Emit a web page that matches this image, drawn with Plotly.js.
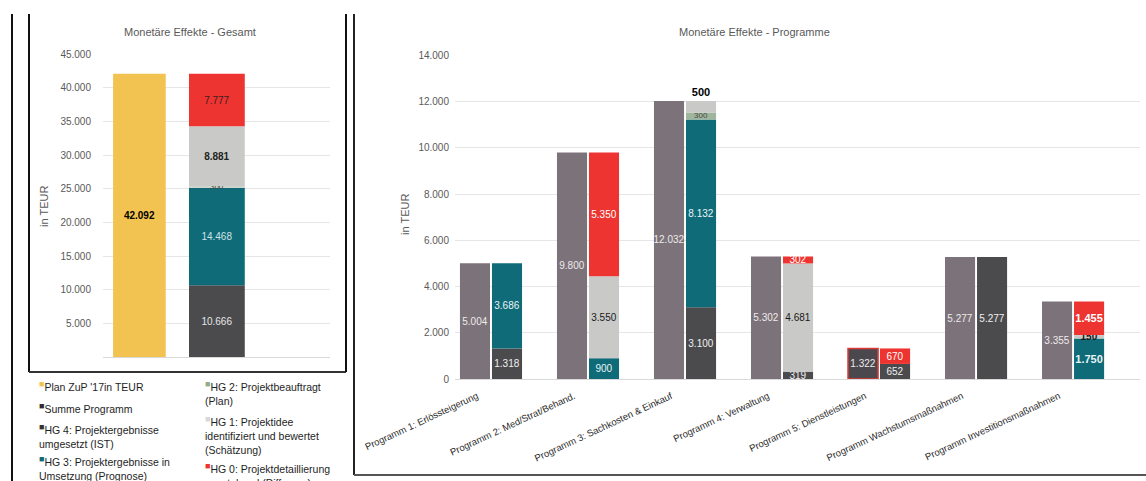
<!DOCTYPE html>
<html>
<head>
<meta charset="utf-8">
<script src="https://cdn.plot.ly/plotly-3.0.1.min.js"></script>
<style>html,body{margin:0;padding:0;background:#fff;}#chart{width:1146px;height:481px;}</style>
</head>
<body>
<div id="chart"></div>
<script>
// ---------- DATA ----------
const programCategories = [
  'Programm 1: Erlössteigerung',
  'Programm 2: Med/Strat/Behand.',
  'Programm 3: Sachkosten & Einkauf',
  'Programm 4: Verwaltung',
  'Programm 5: Dienstleistungen',
  'Programm Wachstumsmaßnahmen',
  'Programm Investitionsmaßnahmen'
];
const planProgramm = [5004, 9800, 12032, 5302, 1322, 5277, 3355];
const hg4Programm  = [1318, 0, 3100, 319, 652, 5277, 0];
const hg3Programm  = [3686, 900, 8132, 0, 0, 0, 1750];
const hg2Programm  = [0, 0, 300, 0, 0, 0, 0];
const hg1Programm  = [0, 3550, 500, 4681, 0, 0, 150];
const hg0Programm  = [0, 5350, 0, 302, 670, 0, 1455];

const gesamtPlanCat  = ['Plan'];
const gesamtStackCat = ['Summe'];
const planGesamt = [42092];
const hg4Gesamt  = [10666];
const hg3Gesamt  = [14468];
const hg2Gesamt  = [300];
const hg1Gesamt  = [8881];
const hg0Gesamt  = [7777];

const leftTicks  = [5000, 10000, 15000, 20000, 25000, 30000, 35000, 40000, 45000];
const rightTicks = [0, 2000, 4000, 6000, 8000, 10000, 12000, 14000];

const seriesNames = {
  plan: "Plan ZuP '17in TEUR",
  summe: 'Summe Programm',
  hg4: 'HG 4: Projektergebnisse umgesetzt (IST)',
  hg3: 'HG 3: Projektergebnisse in Umsetzung (Prognose)',
  hg2: 'HG 2: Projektbeauftragt (Plan)',
  hg1: 'HG 1: Projektidee identifiziert und bewertet (Schätzung)',
  hg0: 'HG 0: Projektdetaillierung ausstehend (Differenz)'
};

// ---------- STYLE ----------
const W = 1146, H = 481;
const px = x => x / W;
const py = y => 1 - y / H;
const FONT = 'Liberation Sans, Arial, sans-serif';
const C = {
  plan: '#f2c350', summe: '#7c7279', summeDark: '#4a484c',
  hg4: '#4b4b4e', hg3: '#0f6b78', hg2: '#9fb59c', hg1: '#c9cac7', hg0: '#ee3430'
};

function fmt(v) { return v ? String(v).replace(/\B(?=(\d{3})+(?!\d))/g, '.') : ''; }
function bases(list) {
  const out = []; let acc = list[0].map(() => 0);
  list.forEach(a => { out.push(acc.slice()); acc = acc.map((v, i) => v + a[i]); });
  return out;
}

const traces = [];

// ---------- LEFT CHART ----------
traces.push({
  type: 'bar', x: gesamtPlanCat, y: planGesamt, name: seriesNames.plan,
  xaxis: 'x', yaxis: 'y', width: 0.68,
  marker: { color: C.plan, line: { width: 0 } },
  text: planGesamt.map(v => '<b>' + fmt(v) + '</b>'), textposition: 'inside',
  insidetextanchor: 'middle', textangle: 0, constraintext: 'none',
  textfont: { family: FONT, size: 10, color: '#000' }, showlegend: false, hoverinfo: 'skip'
});
const leftStack = [hg4Gesamt, hg3Gesamt, hg2Gesamt, hg1Gesamt, hg0Gesamt];
const leftBases = bases(leftStack);
const leftStyle = [
  { n: seriesNames.hg4, c: C.hg4, t: '#e6e6e6', b: false },
  { n: seriesNames.hg3, c: C.hg3, t: '#cfe2e6', b: false },
  { n: seriesNames.hg2, c: '#cfd5cc', t: '#444', b: false },
  { n: seriesNames.hg1, c: C.hg1, t: '#222', b: true },
  { n: seriesNames.hg0, c: C.hg0, t: '#3a2020', b: false }
];
leftStack.forEach((arr, k) => {
  const s = leftStyle[k];
  traces.push({
    type: 'bar', x: gesamtStackCat, y: arr, base: leftBases[k], name: s.n,
    xaxis: 'x', yaxis: 'y', width: 0.72,
    marker: { color: s.c, line: { width: 0 } },
    text: arr.map(v => s.b ? '<b>' + fmt(v) + '</b>' : fmt(v)), textposition: 'inside',
    insidetextanchor: 'middle', textangle: 0, constraintext: 'none',
    textfont: { family: FONT, size: k === 2 ? 8 : 10, color: s.t }, showlegend: false, hoverinfo: 'skip'
  });
});

// ---------- RIGHT CHART ----------
traces.push({
  type: 'bar', x: programCategories, y: planProgramm, name: seriesNames.summe,
  xaxis: 'x2', yaxis: 'y2', offset: -0.32, width: 0.31,
  marker: {
    color: programCategories.map((_, i) => i === 4 ? C.summeDark : C.summe),
    line: { color: '#e03a3a', width: programCategories.map((_, i) => i === 4 ? 1.5 : 0) }
  },
  text: planProgramm.map(fmt), textposition: 'inside',
  insidetextanchor: 'middle', textangle: 0, constraintext: 'none',
  textfont: { family: FONT, size: 10, color: '#eeeaec' }, showlegend: false, hoverinfo: 'skip'
});
const rightStack = [hg4Programm, hg3Programm, hg2Programm, hg1Programm, hg0Programm];
const rightBases = bases(rightStack);
const rightStyle = [
  { n: seriesNames.hg4, c: C.hg4, t: '#f0f0f0' },
  { n: seriesNames.hg3, c: C.hg3, t: '#e8f3f5' },
  { n: seriesNames.hg2, c: C.hg2, t: '#4a4a4a' },
  { n: seriesNames.hg1, c: C.hg1, t: '#1a1a1a' },
  { n: seriesNames.hg0, c: C.hg0, t: '#ffffff' }
];
rightStack.forEach((arr, k) => {
  const s = rightStyle[k];
  const pos = arr.map((v, i) => (k === 3 && i === 2) ? 'outside' : 'inside');
  traces.push({
    type: 'bar', x: programCategories, y: arr, base: rightBases[k], name: s.n,
    xaxis: 'x2', yaxis: 'y2', offset: 0.01, width: 0.31,
    marker: { color: s.c, line: { width: 0 } },
    text: arr.map((v, i) => (pos[i] === 'outside' || i === 6) ? '<b>' + fmt(v) + '</b>' : fmt(v)),
    textposition: pos, insidetextanchor: 'middle', textangle: 0, constraintext: 'none',
    cliponaxis: false,
    textfont: { family: FONT, size: arr.map((v, i) => i === 6 && k !== 3 ? 11 : (k === 2 ? 8 : 10)), color: s.t },
    outsidetextfont: { family: FONT, size: 11, color: '#000' },
    showlegend: false, hoverinfo: 'skip'
  });
});

// ---------- LEGEND (text) ----------
function legendText(color, label) {
  return '<sup><span style="color:' + color + ';font-size:9px">■</span></sup>' + label;
}
const legendItems = [
  { x: 37, y: 377, c: C.plan, t: "Plan ZuP '17in TEUR" },
  { x: 37, y: 399, c: '#2d2d2d', t: 'Summe Programm' },
  { x: 37, y: 420, c: '#333', t: 'HG 4: Projektergebnisse<br>umgesetzt (IST)' },
  { x: 37, y: 452, c: C.hg3, t: 'HG 3: Projektergebnisse in<br>Umsetzung (Prognose)' },
  { x: 203, y: 377, c: '#8fae8c', t: 'HG 2: Projektbeauftragt<br>(Plan)' },
  { x: 203, y: 412, c: '#d8d8d8', t: 'HG 1: Projektidee<br>identifiziert und bewertet<br>(Schätzung)' },
  { x: 203, y: 459, c: C.hg0, t: 'HG 0: Projektdetaillierung<br>ausstehend (Differenz)' }
];

const annotations = [
  { text: 'Monetäre Effekte - Gesamt', x: px(190), y: py(32), xref: 'paper', yref: 'paper',
    xanchor: 'center', yanchor: 'middle',
    showarrow: false, font: { family: FONT, size: 11, color: '#595959' } },
  { text: 'Monetäre Effekte - Programme', x: px(754), y: py(32), xref: 'paper', yref: 'paper',
    xanchor: 'center', yanchor: 'middle',
    showarrow: false, font: { family: FONT, size: 11, color: '#595959' } },
  { text: 'in TEUR', x: px(44), y: py(207), xref: 'paper', yref: 'paper', textangle: -90,
    xanchor: 'center', yanchor: 'middle',
    showarrow: false, font: { family: FONT, size: 11, color: '#595959' } },
  { text: 'in TEUR', x: px(405), y: py(215), xref: 'paper', yref: 'paper', textangle: -90,
    xanchor: 'center', yanchor: 'middle',
    showarrow: false, font: { family: FONT, size: 11, color: '#595959' } }
];
legendItems.forEach(it => annotations.push({
  text: legendText(it.c, it.t), x: px(it.x), y: py(it.y), xref: 'paper', yref: 'paper',
  xanchor: 'left', yanchor: 'top', align: 'left', showarrow: false,
  font: { family: FONT, size: 10.5, color: '#1e1e1e' }
}));

const frame = (x0, y0, x1, y1, col, w) => ({
  type: 'line', xref: 'paper', yref: 'paper', x0: px(x0), y0: py(y0), x1: px(x1), y1: py(y1),
  line: { color: col, width: w }
});
const shapes = [
  frame(12, 14, 12, 481, '#111', 2),
  frame(29, 14, 29, 372, '#111', 2),
  frame(29, 372, 346, 372, '#333', 2),
  frame(346, 14, 346, 372, '#111', 2),
  frame(354, 14, 354, 475, '#222', 2),
  frame(354, 475, 1146, 475, '#555', 2)
];

const tickFont = { family: FONT, size: 10, color: '#595959' };
const layout = {
  width: W, height: H,
  margin: { l: 0, r: 0, t: 0, b: 0, pad: 0 },
  paper_bgcolor: '#fff', plot_bgcolor: '#fff',
  separators: ',.',
  barmode: 'overlay',
  showlegend: false,
  xaxis: {
    domain: [px(103), px(330)], anchor: 'y', type: 'category',
    range: [-0.47, 2.46], showticklabels: false, showgrid: false, zeroline: false,
    showline: false, ticks: '', fixedrange: true
  },
  yaxis: {
    domain: [py(357), py(54.3)], anchor: 'x', range: [0, 45000],
    tickmode: 'array', tickvals: leftTicks, ticktext: leftTicks.map(fmt),
    tickfont: tickFont, ticks: 'outside', ticklen: 9, tickcolor: 'rgba(0,0,0,0)',
    showgrid: true, gridcolor: '#e6e6e6', gridwidth: 1,
    zeroline: true, zerolinecolor: '#d9d9d9', zerolinewidth: 1, showline: false, fixedrange: true
  },
  xaxis2: {
    domain: [px(455), px(1140)], anchor: 'y2', type: 'category',
    categoryorder: 'array', categoryarray: programCategories,
    range: [-0.371, 6.69], tickangle: -25, ticklabelshift: -14, ticklabelstandoff: 9,
    tickfont: { family: FONT, size: 9.5, color: '#2a2a2a' },
    showgrid: false, zeroline: false, showline: false, ticks: '', fixedrange: true
  },
  yaxis2: {
    domain: [py(379), py(55.5)], anchor: 'x2', range: [0, 14000],
    tickmode: 'array', tickvals: rightTicks, ticktext: rightTicks.map(v => v === 0 ? '0' : fmt(v)),
    tickfont: tickFont, ticks: 'outside', ticklen: 3, tickcolor: 'rgba(0,0,0,0)',
    showgrid: true, gridcolor: '#e6e6e6', gridwidth: 1,
    zeroline: true, zerolinecolor: '#d9d9d9', zerolinewidth: 1, showline: false, fixedrange: true
  },
  annotations: annotations,
  shapes: shapes
};

Plotly.newPlot('chart', traces, layout, { displayModeBar: false, staticPlot: true });
</script>
</body>
</html>
